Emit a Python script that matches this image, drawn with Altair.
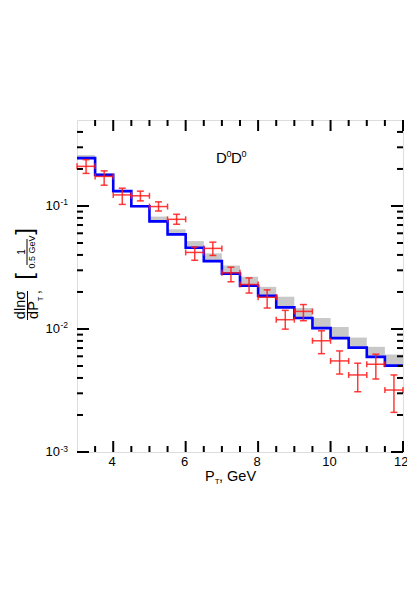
import altair as alt
import pandas as pd

# ---------------- data ----------------
bin_lo = [3.0, 3.5, 4.0, 4.5, 5.0, 5.5, 6.0, 6.5, 7.0, 7.5, 8.0, 8.5, 9.0, 9.5, 10.0, 10.5, 11.0, 11.5]
bin_hi = [3.5, 4.0, 4.5, 5.0, 5.5, 6.0, 6.5, 7.0, 7.5, 8.0, 8.5, 9.0, 9.5, 10.0, 10.5, 11.0, 11.5, 12.0]

model = [0.245, 0.179, 0.132, 0.0995, 0.075, 0.0588, 0.0457, 0.0356, 0.0282, 0.0225,
         0.0186, 0.0150, 0.01227, 0.01017, 0.00843, 0.00706, 0.00593, 0.00504]

band_lo = [0.240, 0.175, 0.129, 0.0975, 0.0735, 0.0576, 0.0448, 0.0349, 0.0276, 0.0220,
           0.0182, 0.0147, 0.0120, 0.00997, 0.00826, 0.00692, 0.00581, 0.00494]
band_hi = [0.259, 0.184, 0.1345, 0.1014, 0.082, 0.0646, 0.0518, 0.0412, 0.0328, 0.0266,
           0.0220, 0.0183, 0.0148, 0.01228, 0.01037, 0.00852, 0.00716, 0.0062]

pt_x = [3.25, 3.75, 4.25, 4.75, 5.25, 5.75, 6.25, 6.75, 7.25, 7.75,
        8.25, 8.75, 9.25, 9.75, 10.25, 10.75, 11.25, 11.75]
pt_y = [0.21, 0.174, 0.123, 0.121, 0.0989, 0.0779, 0.0419, 0.0452, 0.0286, 0.023,
        0.0181, 0.0119, 0.0139, 0.00802, 0.0055, 0.00423, 0.00517, 0.00319]
pt_hi = [0.238, 0.193, 0.1395, 0.132, 0.108, 0.0856, 0.0463, 0.0508, 0.0318, 0.026,
         0.0208, 0.01417, 0.0158, 0.00967, 0.00663, 0.00527, 0.00624, 0.00423]
pt_lo = [0.184, 0.1475, 0.103, 0.11, 0.091, 0.071, 0.0362, 0.0396, 0.0242, 0.0196,
         0.0148, 0.00997, 0.01167, 0.0063, 0.0043, 0.00309, 0.00392, 0.0021]

x_major = [4, 6, 8, 10, 12]
x_labels_inner = [4, 6, 8, 10]
x_label_last = [12]
x_minor = [3.5, 4.5, 5, 5.5, 6.5, 7, 7.5, 8.5, 9, 9.5, 10.5, 11, 11.5]
y_major = [0.001, 0.01, 0.1]
y_major_exp = ["-3", "-2", "-1"]
y_minor = [0.002, 0.003, 0.004, 0.005, 0.006, 0.007, 0.008, 0.009,
           0.02, 0.03, 0.04, 0.05, 0.06, 0.07, 0.08, 0.09,
           0.2, 0.3, 0.4]

W, H = 326, 332
FONT = "Liberation Sans"
RED = "#ff1a1a"

xs = alt.Scale(domain=[3, 12], nice=False, zero=False)
ys = alt.Scale(type="log", domain=[0.001, 0.5], nice=False)

bins = pd.DataFrame({"x0": bin_lo, "x1": bin_hi, "lo": band_lo, "hi": band_hi})
step = pd.DataFrame({"x": bin_lo + [bin_hi[-1]], "y": model + [model[-1]]})
pts = pd.DataFrame({"x": pt_x, "y": pt_y, "lo": pt_lo, "hi": pt_hi,
                    "xl": [v - 0.25 for v in pt_x], "xr": [v + 0.25 for v in pt_x]})

X = lambda f: alt.X(f, type="quantitative", scale=xs, axis=None)
Y = lambda f: alt.Y(f, type="quantitative", scale=ys, axis=None)

band = alt.Chart(bins).mark_rect(color="#c8c8c8").encode(
    x=X("x0"), x2="x1", y=Y("lo"), y2="hi")

line = alt.Chart(step).mark_line(interpolate="step-after", color="#0000ff",
                                 strokeWidth=2.6).encode(x=X("x"), y=Y("y"))

base_pts = alt.Chart(pts)
vbar = base_pts.mark_rule(color=RED, strokeWidth=1.5, opacity=0.85).encode(
    x=X("x"), y=Y("lo"), y2="hi")
hbar = base_pts.mark_rule(color=RED, strokeWidth=1.5, opacity=0.85).encode(
    x=X("xl"), x2="xr", y=Y("y"))
cap_hi = base_pts.mark_tick(color=RED, orient="horizontal", size=7, thickness=1.5,
                            opacity=0.85).encode(x=X("x"), y=Y("hi"))
cap_lo = base_pts.mark_tick(color=RED, orient="horizontal", size=7, thickness=1.5,
                            opacity=0.85).encode(x=X("x"), y=Y("lo"))
cap_l = base_pts.mark_tick(color=RED, orient="vertical", size=6, thickness=1.5,
                           opacity=0.85).encode(x=X("xl"), y=Y("y"))
cap_r = base_pts.mark_tick(color=RED, orient="vertical", size=6, thickness=1.5,
                           opacity=0.85).encode(x=X("xr"), y=Y("y"))

# ---------- inward ticks ----------
xmaj = pd.DataFrame({"v": x_major})
xmin = pd.DataFrame({"v": x_minor})
ymaj = pd.DataFrame({"v": y_major, "e": y_major_exp})
ymin = pd.DataFrame({"v": y_minor})

def xt(df, L):
    c = alt.Chart(df)
    return (c.mark_rule(color="black", strokeWidth=2).encode(
                x=X("v"), y=alt.value(H), y2=alt.value(H - L)) +
            c.mark_rule(color="black", strokeWidth=2).encode(
                x=X("v"), y=alt.value(0), y2=alt.value(L)))

def yt(df, L):
    c = alt.Chart(df)
    return (c.mark_rule(color="black", strokeWidth=2).encode(
                y=Y("v"), x=alt.value(0), x2=alt.value(L)) +
            c.mark_rule(color="black", strokeWidth=2).encode(
                y=Y("v"), x=alt.value(W), x2=alt.value(W - L)))

ticks = xt(xmaj, 11) + xt(xmin, 6) + yt(ymaj, 12) + yt(ymin, 6)

# ---------- tick labels ----------
xlab = alt.Chart(pd.DataFrame({"v": x_labels_inner})).mark_text(
    font=FONT, fontSize=13, baseline="middle", align="center", dx=-1).encode(
    x=X("v"), y=alt.value(H + 10), text=alt.Text("v:Q", format="d"))
xlab_last = alt.Chart(pd.DataFrame({"v": x_label_last})).mark_text(
    font=FONT, fontSize=13, baseline="middle", align="right", dx=5.5).encode(
    x=X("v"), y=alt.value(H + 10), text=alt.Text("v:Q", format="d"))
ylab10 = alt.Chart(ymaj).mark_text(font=FONT, fontSize=13, baseline="middle",
                                   align="right").encode(
    y=Y("v"), x=alt.value(-17), text=alt.value("10"))
ylabexp = alt.Chart(ymaj).mark_text(font=FONT, fontSize=8.5, baseline="alphabetic",
                                    align="left", dy=-0.5).encode(
    y=Y("v"), x=alt.value(-16.5), text="e:N")

# ---------- free texts (plot-pixel coords) ----------
def txt(s, x, y, size, angle=0, align="center", baseline="middle"):
    kw = dict(font=FONT, fontSize=size, align=align, baseline=baseline)
    if angle:
        kw["angle"] = angle
    return alt.Chart(pd.DataFrame({"t": [s]})).mark_text(**kw).encode(
        x=alt.value(x), y=alt.value(y), text="t:N")

def seg(x1, y1, x2, y2):
    return alt.Chart(pd.DataFrame({"a": [0]})).mark_rule(color="black", strokeWidth=1).encode(
        x=alt.value(x1), y=alt.value(y1), x2=alt.value(x2), y2=alt.value(y2))

OX, OY = 77, 120  # page position of plot origin
texts = (
    txt("D", 216 - OX, 163 - OY, 15, align="left", baseline="alphabetic") +
    txt("0", 226.5 - OX, 157 - OY, 9, align="left", baseline="alphabetic") +
    txt("D", 231 - OX, 163 - OY, 15, align="left", baseline="alphabetic") +
    txt("0", 241.5 - OX, 157 - OY, 9, align="left", baseline="alphabetic") +
    # x title
    txt("P", 205 - OX, 481 - OY, 14.5, align="left", baseline="alphabetic") +
    txt("T", 214.8 - OX, 483.5 - OY, 8, align="left", baseline="alphabetic") +
    txt(", GeV", 219 - OX, 481 - OY, 14.5, align="left", baseline="alphabetic") +
    # y title fraction
    txt("dlnσ", 21 - OX, 305 - OY, 14.5, angle=270) +
    seg(27.5 - OX, 291 - OY, 27.5 - OX, 320 - OY) +
    txt("dP", 34 - OX, 310 - OY, 14.5, angle=270) +
    txt("T", 40.5 - OX, 299 - OY, 7.5, angle=270) +
    txt(",", 36 - OX, 292 - OY, 14, angle=270) +
    # bracket [1 / 0.5 GeV]
    txt("[", 25 - OX, 276.5 - OY, 24, angle=270) +
    txt("]", 25 - OX, 231.5 - OY, 24, angle=270) +
    txt("1", 22 - OX, 252 - OY, 10, angle=270) +
    seg(27 - OX, 239 - OY, 27 - OX, 265 - OY) +
    txt("0.5 GeV", 32 - OX, 252 - OY, 9, angle=270)
)

chart = alt.layer(band, line, vbar, hbar, cap_hi, cap_lo, cap_l, cap_r,
                  ticks, xlab, xlab_last, ylab10, ylabexp, texts).properties(
    width=W, height=H,
    autosize=alt.AutoSizeParams(type="none"),
    padding={"left": OX - 8, "top": OY - 8, "right": 4, "bottom": 60},
).configure_view(stroke="black", strokeWidth=2).configure(background="white")

chart.save("out.html", embed_options={"renderer": "svg", "actions": False})
